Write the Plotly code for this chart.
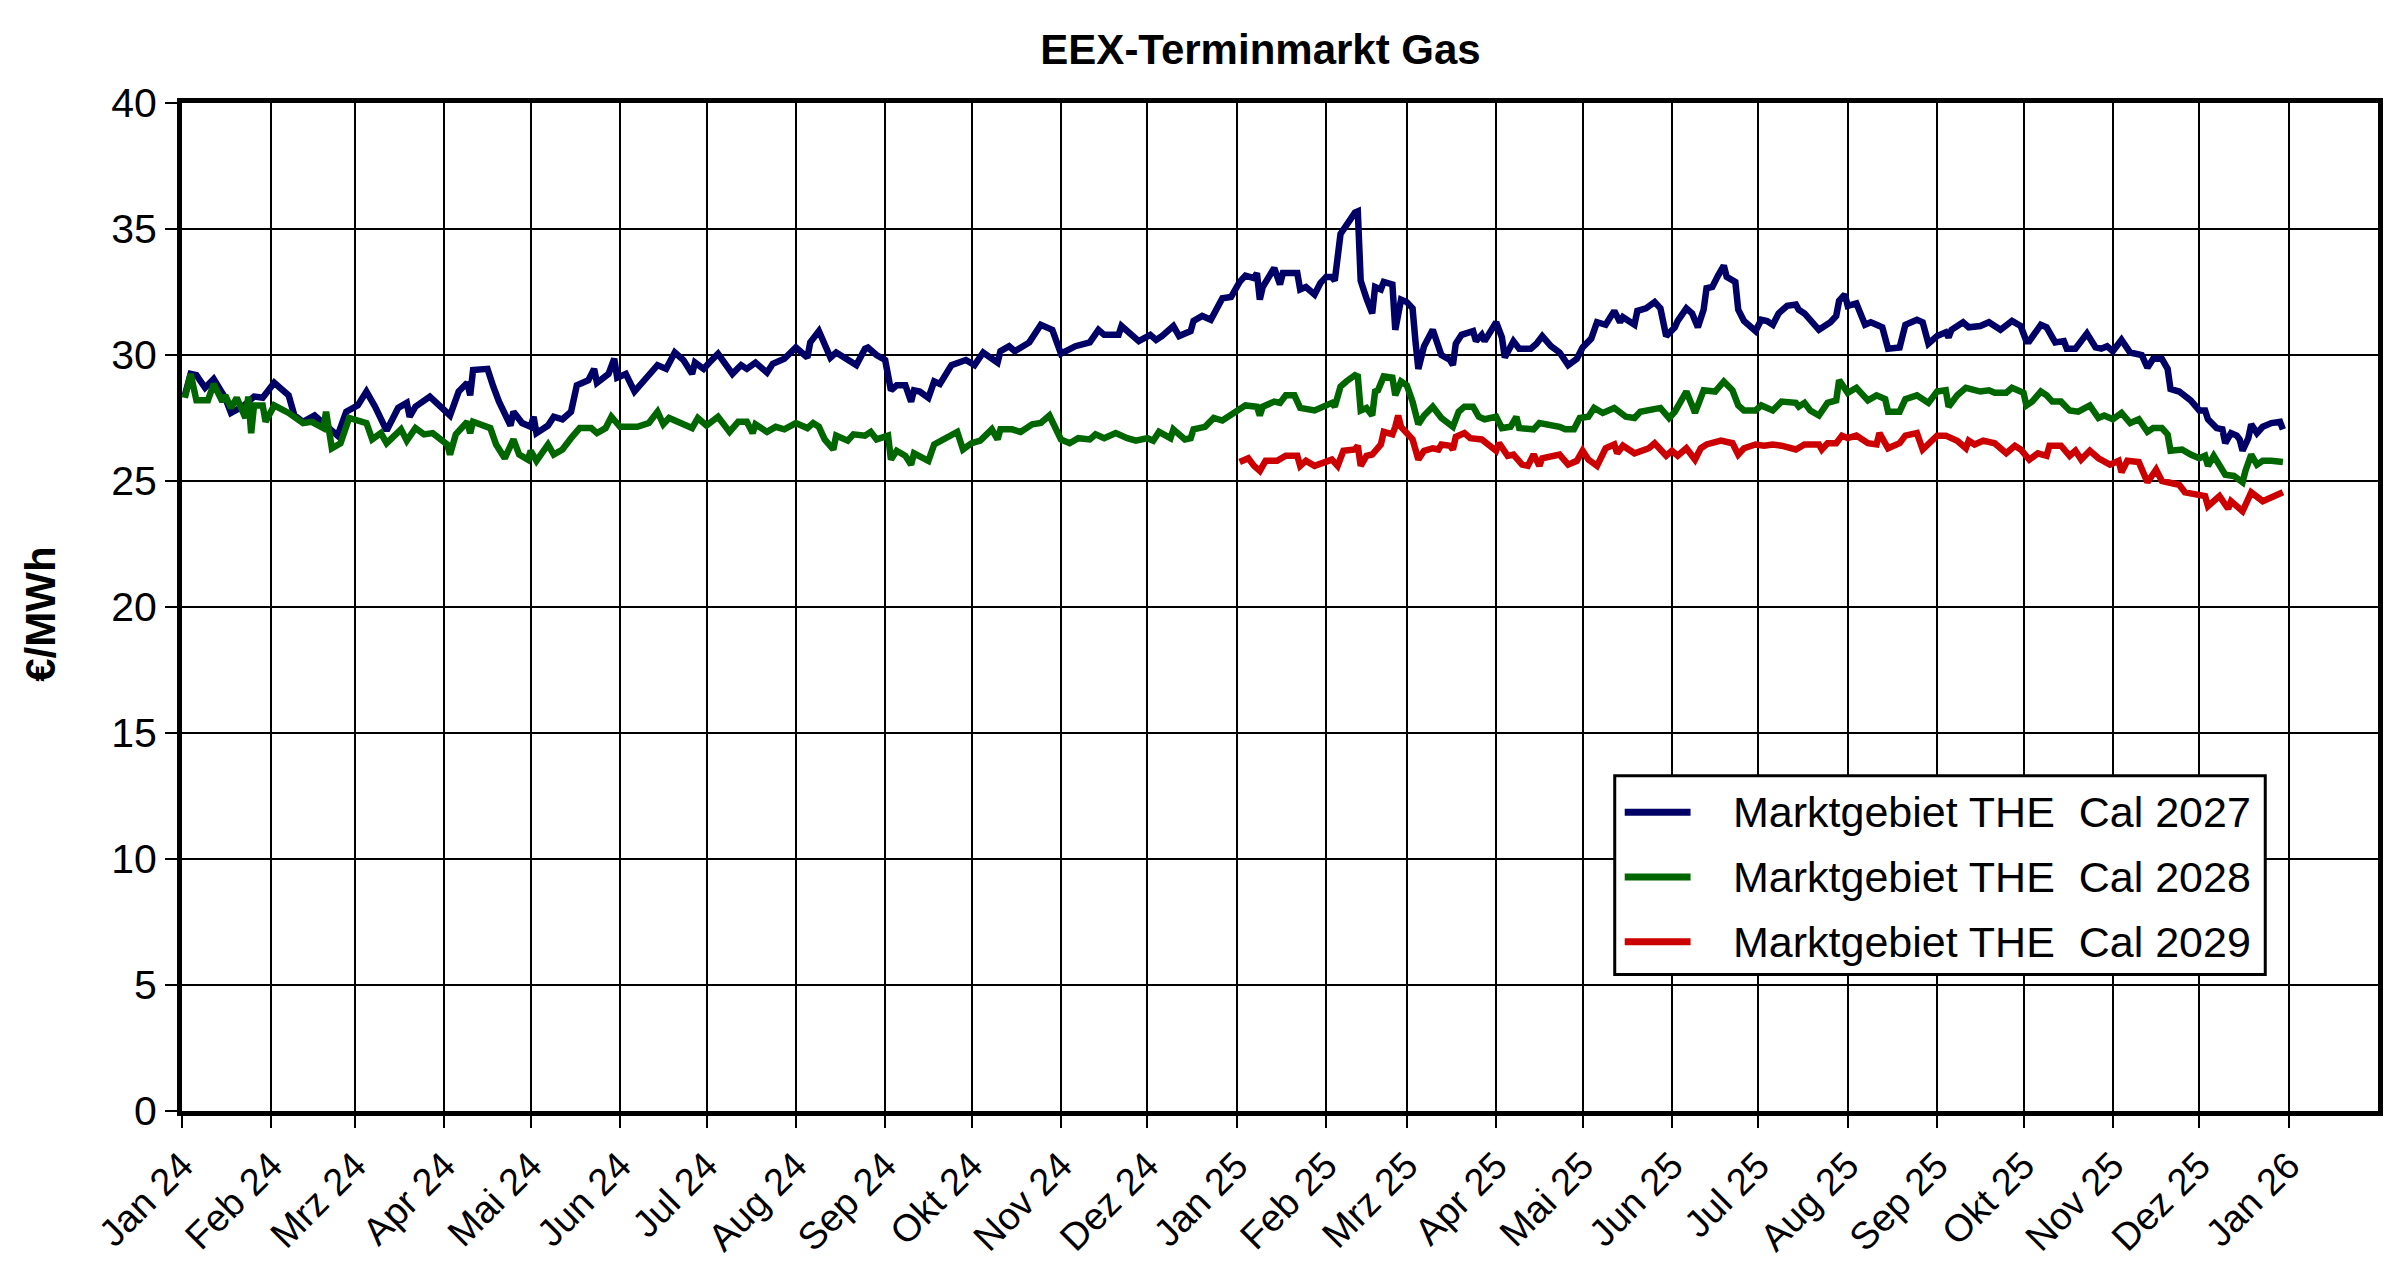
import plotly.graph_objects as go

# EEX Terminmarkt, Marktgebiet THE, EUR/MWh
cal2027 = [
    ("2024-01-02", 28.4), ("2024-01-04", 29.25), ("2024-01-06", 29.2), ("2024-01-09", 28.7),
    ("2024-01-12", 29.05), ("2024-01-16", 28.3), ("2024-01-18", 27.7), ("2024-01-22", 27.95),
    ("2024-01-26", 28.35), ("2024-01-29", 28.3), ("2024-02-02", 28.9), ("2024-02-07", 28.4),
    ("2024-02-09", 27.6), ("2024-02-12", 27.35), ("2024-02-16", 27.6), ("2024-02-20", 27.2),
    ("2024-02-24", 26.8), ("2024-02-27", 27.75), ("2024-03-02", 28.0), ("2024-03-05", 28.55),
    ("2024-03-08", 27.95), ("2024-03-12", 27.0), ("2024-03-16", 27.9), ("2024-03-19", 28.1),
    ("2024-03-20", 27.55), ("2024-03-22", 27.95), ("2024-03-27", 28.35), ("2024-04-03", 27.6),
    ("2024-04-06", 28.55), ("2024-04-09", 28.9), ("2024-04-10", 28.4), ("2024-04-11", 29.4),
    ("2024-04-15", 29.4), ("2024-04-16", 29.45), ("2024-04-18", 28.75), ("2024-04-20", 28.15),
    ("2024-04-24", 27.2), ("2024-04-25", 27.75), ("2024-04-28", 27.3), ("2024-05-01", 27.15),
    ("2024-05-02", 27.55), ("2024-05-03", 26.9), ("2024-05-07", 27.2), ("2024-05-09", 27.55),
    ("2024-05-12", 27.45), ("2024-05-15", 27.75), ("2024-05-17", 28.8), ("2024-05-21", 29.0),
    ("2024-05-23", 29.45), ("2024-05-24", 28.9), ("2024-05-28", 29.25), ("2024-05-30", 29.85),
    ("2024-05-31", 29.1), ("2024-06-03", 29.25), ("2024-06-06", 28.55), ("2024-06-10", 29.1),
    ("2024-06-14", 29.6), ("2024-06-17", 29.45), ("2024-06-20", 30.1), ("2024-06-23", 29.8),
    ("2024-06-26", 29.25), ("2024-06-27", 29.7), ("2024-06-30", 29.45), ("2024-07-02", 29.7),
    ("2024-07-05", 30.05), ("2024-07-10", 29.25), ("2024-07-13", 29.6), ("2024-07-15", 29.45),
    ("2024-07-18", 29.7), ("2024-07-22", 29.3), ("2024-07-24", 29.65), ("2024-07-28", 29.85),
    ("2024-08-01", 30.3), ("2024-08-05", 29.9), ("2024-08-06", 30.5), ("2024-08-09", 30.95),
    ("2024-08-13", 29.9), ("2024-08-15", 30.1), ("2024-08-19", 29.85), ("2024-08-22", 29.6),
    ("2024-08-25", 30.25), ("2024-08-26", 30.3), ("2024-08-29", 30.0), ("2024-09-01", 29.8),
    ("2024-09-03", 28.6), ("2024-09-05", 28.8), ("2024-09-08", 28.8), ("2024-09-10", 28.15),
    ("2024-09-11", 28.6), ("2024-09-13", 28.55), ("2024-09-16", 28.3), ("2024-09-18", 28.95),
    ("2024-09-20", 28.85), ("2024-09-24", 29.6), ("2024-09-29", 29.8), ("2024-10-02", 29.6),
    ("2024-10-05", 30.1), ("2024-10-10", 29.7), ("2024-10-11", 30.15), ("2024-10-14", 30.35),
    ("2024-10-16", 30.15), ("2024-10-21", 30.5), ("2024-10-25", 31.2), ("2024-10-29", 31.0),
    ("2024-11-01", 30.05), ("2024-11-06", 30.35), ("2024-11-11", 30.5), ("2024-11-14", 31.0),
    ("2024-11-16", 30.8), ("2024-11-21", 30.8), ("2024-11-22", 31.15), ("2024-11-28", 30.55),
    ("2024-12-02", 30.8), ("2024-12-04", 30.6), ("2024-12-06", 30.75), ("2024-12-10", 31.15),
    ("2024-12-12", 30.75), ("2024-12-16", 30.95), ("2024-12-17", 31.35), ("2024-12-20", 31.55),
    ("2024-12-23", 31.4), ("2024-12-27", 32.25), ("2024-12-30", 32.3), ("2025-01-02", 32.9),
    ("2025-01-04", 33.15), ("2025-01-07", 33.05), ("2025-01-08", 33.25), ("2025-01-09", 32.2),
    ("2025-01-10", 32.7), ("2025-01-14", 33.45), ("2025-01-16", 32.8), ("2025-01-17", 33.25),
    ("2025-01-22", 33.25), ("2025-01-23", 32.6), ("2025-01-25", 32.7), ("2025-01-28", 32.4),
    ("2025-01-30", 32.85), ("2025-02-01", 33.1), ("2025-02-03", 33.1), ("2025-02-04", 32.95),
    ("2025-02-06", 34.8), ("2025-02-08", 35.15), ("2025-02-11", 35.65), ("2025-02-12", 35.7),
    ("2025-02-13", 32.95), ("2025-02-15", 32.25), ("2025-02-17", 31.65), ("2025-02-18", 32.7),
    ("2025-02-20", 32.6), ("2025-02-21", 32.9), ("2025-02-24", 32.8), ("2025-02-25", 31.0),
    ("2025-02-27", 32.2), ("2025-03-01", 32.1), ("2025-03-03", 31.85), ("2025-03-04", 30.55),
    ("2025-03-05", 29.45), ("2025-03-07", 30.35), ("2025-03-10", 31.0), ("2025-03-13", 30.0),
    ("2025-03-16", 29.8), ("2025-03-17", 29.6), ("2025-03-18", 30.45), ("2025-03-20", 30.8),
    ("2025-03-24", 30.95), ("2025-03-25", 30.55), ("2025-03-27", 30.8), ("2025-03-28", 30.55),
    ("2025-04-01", 31.3), ("2025-04-03", 30.7), ("2025-04-04", 29.9), ("2025-04-07", 30.55),
    ("2025-04-09", 30.25), ("2025-04-13", 30.25), ("2025-04-15", 30.45), ("2025-04-17", 30.75),
    ("2025-04-20", 30.35), ("2025-04-23", 30.1), ("2025-04-26", 29.6), ("2025-04-29", 29.85),
    ("2025-05-01", 30.3), ("2025-05-04", 30.65), ("2025-05-06", 31.3), ("2025-05-09", 31.2),
    ("2025-05-12", 31.75), ("2025-05-14", 31.3), ("2025-05-15", 31.5), ("2025-05-19", 31.2),
    ("2025-05-20", 31.75), ("2025-05-23", 31.85), ("2025-05-26", 32.1), ("2025-05-28", 31.85),
    ("2025-05-30", 30.75), ("2025-06-02", 31.1), ("2025-06-03", 31.35), ("2025-06-06", 31.85),
    ("2025-06-08", 31.65), ("2025-06-10", 31.1), ("2025-06-12", 31.8), ("2025-06-13", 32.65),
    ("2025-06-15", 32.7), ("2025-06-17", 33.15), ("2025-06-19", 33.55), ("2025-06-20", 33.1),
    ("2025-06-23", 32.9), ("2025-06-24", 31.8), ("2025-06-26", 31.35), ("2025-06-30", 30.95),
    ("2025-07-02", 31.4), ("2025-07-04", 31.35), ("2025-07-06", 31.2), ("2025-07-08", 31.65),
    ("2025-07-11", 31.95), ("2025-07-14", 32.0), ("2025-07-15", 31.8), ("2025-07-17", 31.65),
    ("2025-07-19", 31.35), ("2025-07-22", 31.0), ("2025-07-26", 31.3), ("2025-07-28", 31.55),
    ("2025-07-29", 32.15), ("2025-07-31", 32.4), ("2025-08-01", 31.95), ("2025-08-04", 32.05),
    ("2025-08-07", 31.2), ("2025-08-09", 31.3), ("2025-08-11", 31.2), ("2025-08-13", 31.1),
    ("2025-08-15", 30.25), ("2025-08-19", 30.3), ("2025-08-21", 31.2), ("2025-08-25", 31.4),
    ("2025-08-27", 31.3), ("2025-08-29", 30.45), ("2025-09-01", 30.75), ("2025-09-04", 30.9),
    ("2025-09-05", 30.7), ("2025-09-06", 31.0), ("2025-09-10", 31.3), ("2025-09-12", 31.1),
    ("2025-09-16", 31.15), ("2025-09-19", 31.3), ("2025-09-23", 31.0), ("2025-09-27", 31.35),
    ("2025-09-30", 31.15), ("2025-10-02", 30.55), ("2025-10-03", 30.55), ("2025-10-07", 31.2),
    ("2025-10-09", 31.1), ("2025-10-12", 30.5), ("2025-10-15", 30.55), ("2025-10-16", 30.25),
    ("2025-10-19", 30.25), ("2025-10-23", 30.85), ("2025-10-26", 30.3), ("2025-10-28", 30.25),
    ("2025-10-30", 30.35), ("2025-11-01", 30.15), ("2025-11-04", 30.6), ("2025-11-07", 30.1),
    ("2025-11-11", 30.0), ("2025-11-13", 29.5), ("2025-11-15", 29.85), ("2025-11-18", 29.85),
    ("2025-11-20", 29.45), ("2025-11-21", 28.65), ("2025-11-24", 28.55), ("2025-11-28", 28.2),
    ("2025-12-01", 27.8), ("2025-12-03", 27.8), ("2025-12-04", 27.45), ("2025-12-07", 27.1),
    ("2025-12-09", 27.05), ("2025-12-10", 26.5), ("2025-12-12", 26.9), ("2025-12-14", 26.8),
    ("2025-12-15", 26.65), ("2025-12-16", 26.2), ("2025-12-18", 26.7), ("2025-12-19", 27.25),
    ("2025-12-21", 26.9), ("2025-12-23", 27.15), ("2025-12-26", 27.3), ("2025-12-29", 27.35),
    ("2025-12-30", 27.05),
]

cal2028 = [
    ("2024-01-02", 28.3), ("2024-01-04", 29.25), ("2024-01-06", 28.2), ("2024-01-10", 28.2),
    ("2024-01-12", 28.85), ("2024-01-15", 28.15), ("2024-01-16", 28.4), ("2024-01-18", 27.9),
    ("2024-01-20", 28.3), ("2024-01-23", 27.5), ("2024-01-24", 28.35), ("2024-01-25", 26.9),
    ("2024-01-26", 28.0), ("2024-01-29", 28.0), ("2024-01-30", 27.35), ("2024-02-02", 28.0),
    ("2024-02-07", 27.7), ("2024-02-12", 27.3), ("2024-02-15", 27.35), ("2024-02-19", 27.1),
    ("2024-02-20", 27.75), ("2024-02-22", 26.3), ("2024-02-25", 26.5), ("2024-02-28", 27.5),
    ("2024-03-05", 27.3), ("2024-03-07", 26.65), ("2024-03-10", 26.9), ("2024-03-12", 26.5),
    ("2024-03-17", 27.05), ("2024-03-19", 26.6), ("2024-03-22", 27.1), ("2024-03-25", 26.85),
    ("2024-03-28", 26.9), ("2024-04-02", 26.45), ("2024-04-03", 26.05), ("2024-04-05", 26.85),
    ("2024-04-09", 27.35), ("2024-04-10", 26.9), ("2024-04-11", 27.35), ("2024-04-15", 27.15),
    ("2024-04-17", 27.1), ("2024-04-19", 26.45), ("2024-04-22", 25.9), ("2024-04-25", 26.65),
    ("2024-04-27", 26.05), ("2024-04-30", 25.85), ("2024-05-01", 26.2), ("2024-05-03", 25.8),
    ("2024-05-07", 26.45), ("2024-05-09", 26.05), ("2024-05-12", 26.25), ("2024-05-15", 26.7),
    ("2024-05-18", 27.1), ("2024-05-22", 27.1), ("2024-05-24", 26.9), ("2024-05-27", 27.1),
    ("2024-05-29", 27.55), ("2024-06-01", 27.15), ("2024-06-07", 27.15), ("2024-06-11", 27.3),
    ("2024-06-14", 27.75), ("2024-06-16", 27.25), ("2024-06-18", 27.5), ("2024-06-23", 27.25),
    ("2024-06-26", 27.1), ("2024-06-28", 27.5), ("2024-07-01", 27.2), ("2024-07-05", 27.55),
    ("2024-07-09", 26.95), ("2024-07-12", 27.35), ("2024-07-15", 27.35), ("2024-07-17", 26.9),
    ("2024-07-18", 27.25), ("2024-07-22", 26.95), ("2024-07-25", 27.15), ("2024-07-28", 27.05),
    ("2024-08-01", 27.3), ("2024-08-05", 27.1), ("2024-08-07", 27.3), ("2024-08-09", 27.15),
    ("2024-08-11", 26.65), ("2024-08-14", 26.25), ("2024-08-15", 26.8), ("2024-08-19", 26.6),
    ("2024-08-21", 26.85), ("2024-08-25", 26.8), ("2024-08-27", 26.95), ("2024-08-29", 26.65),
    ("2024-09-02", 26.8), ("2024-09-03", 25.85), ("2024-09-05", 26.2), ("2024-09-08", 26.0),
    ("2024-09-10", 25.65), ("2024-09-11", 26.1), ("2024-09-16", 25.8), ("2024-09-18", 26.45),
    ("2024-09-21", 26.65), ("2024-09-26", 26.95), ("2024-09-28", 26.25), ("2024-10-01", 26.5),
    ("2024-10-04", 26.6), ("2024-10-08", 27.05), ("2024-10-10", 26.65), ("2024-10-11", 27.05),
    ("2024-10-15", 27.05), ("2024-10-18", 26.95), ("2024-10-22", 27.25), ("2024-10-25", 27.3),
    ("2024-10-28", 27.6), ("2024-11-01", 26.65), ("2024-11-04", 26.5), ("2024-11-07", 26.7),
    ("2024-11-11", 26.65), ("2024-11-13", 26.85), ("2024-11-16", 26.7), ("2024-11-20", 26.9),
    ("2024-11-24", 26.7), ("2024-11-27", 26.6), ("2024-12-01", 26.7), ("2024-12-03", 26.6),
    ("2024-12-05", 26.95), ("2024-12-09", 26.7), ("2024-12-10", 27.05), ("2024-12-14", 26.65),
    ("2024-12-16", 26.7), ("2024-12-17", 27.05), ("2024-12-21", 27.15), ("2024-12-24", 27.5),
    ("2024-12-27", 27.4), ("2024-12-30", 27.6), ("2025-01-02", 27.8), ("2025-01-04", 28.0),
    ("2025-01-08", 27.95), ("2025-01-09", 27.6), ("2025-01-10", 27.95), ("2025-01-14", 28.15),
    ("2025-01-16", 28.1), ("2025-01-18", 28.4), ("2025-01-21", 28.4), ("2025-01-23", 27.9),
    ("2025-01-28", 27.8), ("2025-01-31", 27.95), ("2025-02-03", 28.1), ("2025-02-04", 27.95),
    ("2025-02-06", 28.75), ("2025-02-08", 28.95), ("2025-02-11", 29.2), ("2025-02-12", 29.15),
    ("2025-02-13", 27.8), ("2025-02-15", 27.9), ("2025-02-17", 27.6), ("2025-02-18", 28.55),
    ("2025-02-19", 28.6), ("2025-02-21", 29.15), ("2025-02-24", 29.1), ("2025-02-25", 28.4),
    ("2025-02-27", 28.95), ("2025-03-01", 28.8), ("2025-03-03", 28.15), ("2025-03-05", 27.25),
    ("2025-03-07", 27.6), ("2025-03-10", 27.95), ("2025-03-13", 27.5), ("2025-03-17", 27.15),
    ("2025-03-19", 27.75), ("2025-03-21", 27.95), ("2025-03-24", 27.95), ("2025-03-26", 27.55),
    ("2025-03-28", 27.45), ("2025-04-01", 27.55), ("2025-04-03", 27.1), ("2025-04-06", 27.15),
    ("2025-04-08", 27.55), ("2025-04-09", 27.1), ("2025-04-14", 27.05), ("2025-04-16", 27.3),
    ("2025-04-19", 27.25), ("2025-04-23", 27.15), ("2025-04-25", 27.05), ("2025-04-28", 27.05),
    ("2025-04-30", 27.5), ("2025-05-03", 27.55), ("2025-05-05", 27.9), ("2025-05-08", 27.7),
    ("2025-05-12", 27.9), ("2025-05-16", 27.55), ("2025-05-19", 27.5), ("2025-05-21", 27.75),
    ("2025-05-28", 27.9), ("2025-05-31", 27.5), ("2025-06-02", 27.75), ("2025-06-06", 28.55),
    ("2025-06-08", 28.0), ("2025-06-09", 27.7), ("2025-06-12", 28.6), ("2025-06-16", 28.55),
    ("2025-06-19", 28.95), ("2025-06-22", 28.6), ("2025-06-24", 28.0), ("2025-06-26", 27.8),
    ("2025-06-30", 27.8), ("2025-07-02", 28.0), ("2025-07-06", 27.8), ("2025-07-09", 28.15),
    ("2025-07-14", 28.1), ("2025-07-15", 27.95), ("2025-07-17", 28.1), ("2025-07-19", 27.8),
    ("2025-07-22", 27.6), ("2025-07-25", 28.1), ("2025-07-28", 28.2), ("2025-07-29", 29.0),
    ("2025-08-01", 28.5), ("2025-08-04", 28.7), ("2025-08-08", 28.2), ("2025-08-11", 28.4),
    ("2025-08-14", 28.25), ("2025-08-15", 27.75), ("2025-08-19", 27.75), ("2025-08-21", 28.25),
    ("2025-08-25", 28.4), ("2025-08-29", 28.1), ("2025-09-01", 28.55), ("2025-09-04", 28.6),
    ("2025-09-05", 27.95), ("2025-09-08", 28.4), ("2025-09-11", 28.7), ("2025-09-16", 28.55),
    ("2025-09-19", 28.6), ("2025-09-21", 28.5), ("2025-09-25", 28.5), ("2025-09-27", 28.7),
    ("2025-10-01", 28.5), ("2025-10-02", 28.0), ("2025-10-04", 28.15), ("2025-10-07", 28.55),
    ("2025-10-09", 28.4), ("2025-10-11", 28.15), ("2025-10-14", 28.15), ("2025-10-17", 27.8),
    ("2025-10-20", 27.75), ("2025-10-24", 28.0), ("2025-10-27", 27.5), ("2025-10-29", 27.6),
    ("2025-11-01", 27.45), ("2025-11-04", 27.7), ("2025-11-07", 27.3), ("2025-11-10", 27.45),
    ("2025-11-13", 26.95), ("2025-11-15", 27.1), ("2025-11-18", 27.1), ("2025-11-20", 26.85),
    ("2025-11-21", 26.2), ("2025-11-25", 26.25), ("2025-11-28", 26.05), ("2025-12-01", 25.9),
    ("2025-12-03", 26.0), ("2025-12-04", 25.6), ("2025-12-06", 26.0), ("2025-12-08", 25.65),
    ("2025-12-10", 25.25), ("2025-12-13", 25.2), ("2025-12-16", 24.95), ("2025-12-17", 25.4),
    ("2025-12-19", 26.05), ("2025-12-21", 25.65), ("2025-12-23", 25.8), ("2025-12-26", 25.8),
    ("2025-12-30", 25.75),
]

cal2029 = [
    ("2025-01-02", 25.75), ("2025-01-03", 25.8), ("2025-01-05", 25.9), ("2025-01-07", 25.6),
    ("2025-01-09", 25.4), ("2025-01-11", 25.8), ("2025-01-15", 25.8), ("2025-01-18", 26.0),
    ("2025-01-22", 26.0), ("2025-01-23", 25.6), ("2025-01-25", 25.8), ("2025-01-28", 25.6),
    ("2025-02-01", 25.75), ("2025-02-03", 25.85), ("2025-02-05", 25.6), ("2025-02-07", 26.2),
    ("2025-02-11", 26.25), ("2025-02-12", 26.4), ("2025-02-13", 25.6), ("2025-02-15", 26.0),
    ("2025-02-17", 26.05), ("2025-02-20", 26.45), ("2025-02-21", 26.95), ("2025-02-24", 26.85),
    ("2025-02-25", 27.15), ("2025-02-26", 27.6), ("2025-02-27", 27.15), ("2025-03-03", 26.65),
    ("2025-03-05", 25.85), ("2025-03-07", 26.2), ("2025-03-10", 26.3), ("2025-03-12", 26.25),
    ("2025-03-13", 26.45), ("2025-03-16", 26.4), ("2025-03-17", 26.25), ("2025-03-18", 26.75),
    ("2025-03-21", 26.9), ("2025-03-23", 26.7), ("2025-03-27", 26.65), ("2025-04-01", 26.2),
    ("2025-04-02", 26.5), ("2025-04-05", 26.0), ("2025-04-07", 26.05), ("2025-04-10", 25.65),
    ("2025-04-12", 25.6), ("2025-04-14", 26.05), ("2025-04-16", 25.6), ("2025-04-17", 25.9),
    ("2025-04-23", 26.05), ("2025-04-26", 25.65), ("2025-04-29", 25.8), ("2025-05-01", 26.2),
    ("2025-05-03", 25.85), ("2025-05-06", 25.6), ("2025-05-09", 26.3), ("2025-05-12", 26.45),
    ("2025-05-13", 26.1), ("2025-05-15", 26.4), ("2025-05-19", 26.1), ("2025-05-24", 26.3),
    ("2025-05-26", 26.5), ("2025-05-30", 26.0), ("2025-06-01", 26.2), ("2025-06-03", 26.0),
    ("2025-06-06", 26.3), ("2025-06-09", 25.85), ("2025-06-11", 26.3), ("2025-06-13", 26.45),
    ("2025-06-18", 26.6), ("2025-06-22", 26.5), ("2025-06-24", 26.05), ("2025-06-26", 26.3),
    ("2025-06-30", 26.45), ("2025-07-03", 26.4), ("2025-07-06", 26.45), ("2025-07-09", 26.4),
    ("2025-07-14", 26.25), ("2025-07-17", 26.45), ("2025-07-22", 26.45), ("2025-07-23", 26.25),
    ("2025-07-25", 26.5), ("2025-07-28", 26.5), ("2025-07-30", 26.8), ("2025-08-01", 26.7),
    ("2025-08-04", 26.8), ("2025-08-08", 26.5), ("2025-08-11", 26.45), ("2025-08-12", 26.9),
    ("2025-08-15", 26.3), ("2025-08-19", 26.5), ("2025-08-21", 26.8), ("2025-08-25", 26.9),
    ("2025-08-27", 26.25), ("2025-08-29", 26.5), ("2025-09-01", 26.8), ("2025-09-04", 26.8),
    ("2025-09-08", 26.6), ("2025-09-11", 26.3), ("2025-09-12", 26.6), ("2025-09-14", 26.45),
    ("2025-09-17", 26.6), ("2025-09-21", 26.5), ("2025-09-25", 26.1), ("2025-09-28", 26.4),
    ("2025-09-30", 26.25), ("2025-10-03", 25.85), ("2025-10-06", 26.1), ("2025-10-09", 26.0),
    ("2025-10-10", 26.4), ("2025-10-14", 26.4), ("2025-10-17", 26.0), ("2025-10-19", 26.2),
    ("2025-10-21", 25.85), ("2025-10-24", 26.2), ("2025-10-27", 25.9), ("2025-10-31", 25.65),
    ("2025-11-03", 25.8), ("2025-11-04", 25.35), ("2025-11-06", 25.8), ("2025-11-10", 25.75),
    ("2025-11-13", 24.95), ("2025-11-16", 25.45), ("2025-11-18", 25.0), ("2025-11-20", 24.95),
    ("2025-11-24", 24.85), ("2025-11-26", 24.55), ("2025-12-03", 24.4), ("2025-12-04", 24.0),
    ("2025-12-06", 24.2), ("2025-12-08", 24.4), ("2025-12-11", 23.9), ("2025-12-12", 24.2),
    ("2025-12-16", 23.8), ("2025-12-19", 24.55), ("2025-12-23", 24.2), ("2025-12-26", 24.35),
    ("2025-12-30", 24.55),
]

series_names = ["Marktgebiet THE  Cal 2027", "Marktgebiet THE  Cal 2028", "Marktgebiet THE  Cal 2029"]
series_colors = ["#000066", "#006600", "#CC0000"]

month_names = ["Jan", "Feb", "Mrz", "Apr", "Mai", "Jun", "Jul", "Aug", "Sep", "Okt", "Nov", "Dez"]
tick_vals = []
tick_text = []
for year in (2024, 2025):
    for m in range(12):
        tick_vals.append(f"{year}-{m + 1:02d}-01")
        tick_text.append(f"{month_names[m]} {str(year)[2:]}")
tick_vals.append("2026-01-01")
tick_text.append("Jan 26")

FONT = "Liberation Sans, Arial, sans-serif"

# figure size / plot area in pixels (page body adds 8px margin)
W, H = 2384, 1260
L, R, T, B = 174, 9, 95, 146
PW, PH = W - L - R, H - T - B


def px(x):
    return (x - L) / PW


def py(y):
    return 1 - (y - T) / PH


fig = go.Figure()
for data, name, color in zip([cal2027, cal2028, cal2029], series_names, series_colors):
    fig.add_trace(go.Scatter(
        x=[d for d, v in data], y=[v for d, v in data],
        mode="lines", name=name, line=dict(color=color, width=6.5),
        showlegend=False,
    ))

# legend box drawn by hand (long line samples like the original)
shapes = [dict(type="rect", xref="paper", yref="paper",
               x0=px(1610), x1=px(2262), y0=py(976), y1=py(775),
               line=dict(color="black", width=3), fillcolor="white", layer="above")]
annotations = []
for i, (name, color) in enumerate(zip(series_names, series_colors)):
    yy = py(812 + i * 65.5)
    shapes.append(dict(type="line", xref="paper", yref="paper",
                       x0=px(1620), x1=px(1686), y0=yy, y1=yy,
                       line=dict(color=color, width=7), layer="above"))
    annotations.append(dict(xref="paper", yref="paper", x=px(1727), y=yy,
                            text=name.replace("  ", "&nbsp; "), showarrow=False,
                            xanchor="left", yanchor="middle",
                            font=dict(family=FONT, size=43, color="black")))

annotations.append(dict(xref="paper", yref="paper", x=px(32), y=py(612),
                        text="<b>€/MWh</b>", textangle=-90, showarrow=False,
                        xanchor="center", yanchor="middle",
                        font=dict(family=FONT, size=42, color="black")))

fig.update_layout(
    width=W, height=H,
    margin=dict(l=L, r=R, t=T, b=B),
    paper_bgcolor="white", plot_bgcolor="white",
    title=dict(text="<b>EEX-Terminmarkt Gas</b>", x=px(1255), xref="paper", xanchor="center",
               y=1 - 41 / H, yref="container", yanchor="middle",
               font=dict(family=FONT, size=42, color="black")),
    shapes=shapes,
    annotations=annotations,
    showlegend=False,
)

fig.update_xaxes(
    type="date", range=["2024-01-01", "2026-02-01"],
    tickmode="array", tickvals=tick_vals, ticktext=tick_text, tickangle=-45,
    tickfont=dict(family=FONT, size=38, color="black"),
    ticks="outside", ticklen=12, tickwidth=2, tickcolor="black",
    showgrid=True, gridcolor="black", gridwidth=2,
    showline=True, linecolor="black", linewidth=5, mirror=True,
    zeroline=False,
)
fig.update_yaxes(
    range=[0, 40], tick0=0, dtick=5,
    tickfont=dict(family=FONT, size=41, color="black"),
    ticks="outside", ticklen=12, tickwidth=2, tickcolor="black",
    showgrid=True, gridcolor="black", gridwidth=2,
    showline=True, linecolor="black", linewidth=5, mirror=True,
    zeroline=False,
)

fig.write_html("out.html")
